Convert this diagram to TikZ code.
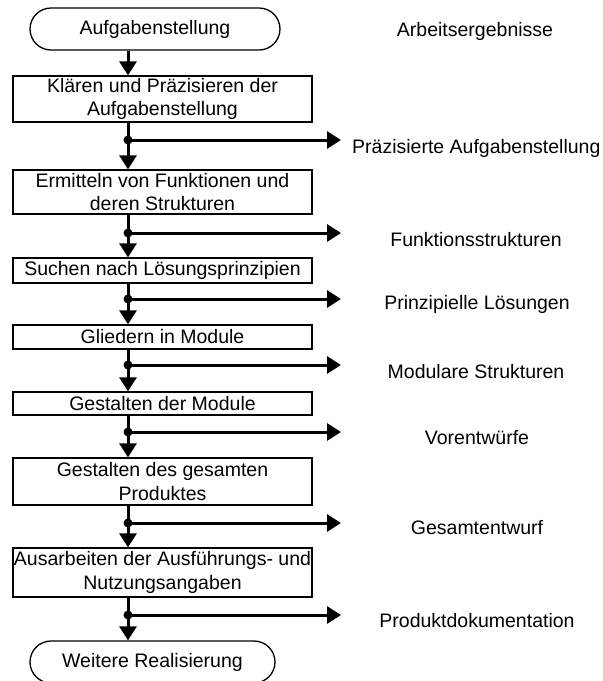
\documentclass[tikz,border=0pt]{standalone}
\usepackage{fontspec}
\setmainfont{Liberation Sans}
\usetikzlibrary{arrows.meta}
\begin{document}
\begin{tikzpicture}[x=1pt,y=-1pt,
  every node/.style={font=\fontsize{19.5}{23.5}\selectfont},
  stepbox/.style={draw, line width=1.3pt, minimum width=299pt, inner sep=0pt, align=center},
  terminal/.style={draw, line width=1.3pt, rounded corners=21pt, minimum height=42pt, inner sep=0pt},
  flow/.style={line width=3pt, -{Triangle[length=14pt,width=17pt]}},
  junction/.style={circle, fill, inner sep=0pt, minimum size=9pt},
  result/.style={inner sep=0pt}]
\clip (0,0) rectangle (603,681);
\fill[white] (0,0) rectangle (603,681);

% process steps
\node[terminal, minimum width=250pt] (start) at (155,29) {Aufgabenstellung};
\node[stepbox, minimum height=46pt] (s1) at (162.5,99) {Klären und Präzisieren der\\Aufgabenstellung};
\node[stepbox, minimum height=44pt] (s2) at (162.5,192) {Ermitteln von Funktionen und\\deren Strukturen};
\node[stepbox, minimum height=25pt] (s3) at (162.5,270.5) {Suchen nach Lösungsprinzipien};
\node[stepbox, minimum height=24pt] (s4) at (162.5,337) {Gliedern in Module};
\node[stepbox, minimum height=23pt] (s5) at (162.5,403.5) {Gestalten der Module};
\node[stepbox, minimum height=47pt] (s6) at (162.5,481.5) {Gestalten des gesamten\\Produktes};
\node[stepbox, minimum height=49pt] (s7) at (162.5,572.5) {Ausarbeiten der Ausführungs- und\\Nutzungsangaben};
\node[terminal, minimum width=245pt] (end) at (152.5,662) {Weitere Realisierung};

% branch points and arrow ends
\node[junction] (j1) at (128,140) {};
\node[junction] (j2) at (128,233) {};
\node[junction] (j3) at (128,299) {};
\node[junction] (j4) at (128,365) {};
\node[junction] (j5) at (128,432) {};
\node[junction] (j6) at (128,523) {};
\node[junction] (j7) at (128,615) {};
\foreach \i/\y in {1/140,2/233,3/299,4/365,5/432,6/523,7/615}
  \coordinate (e\i) at (341,\y);

% results
\node[result] (r0) at (475,31) {Arbeitsergebnisse};
\node[result, anchor=west] (r1) at (352,148) {Präzisierte Aufgabenstellung};
\node[result] (r2) at (476,240) {Funktionsstrukturen};
\node[result] (r3) at (477,304) {Prinzipielle Lösungen};
\node[result] (r4) at (476,372) {Modulare Strukturen};
\node[result] (r5) at (477,438) {Vorentwürfe};
\node[result] (r6) at (477,528) {Gesamtentwurf};
\node[result] (r7) at (477,621) {Produktdokumentation};

% main flow
\draw[flow] (start.south -| j1) -- (s1.north -| j1);
\draw[flow] (s1.south -| j1) -- (s2.north -| j1);
\draw[flow] (s2.south -| j1) -- (s3.north -| j1);
\draw[flow] (s3.south -| j1) -- (s4.north -| j1);
\draw[flow] (s4.south -| j1) -- (s5.north -| j1);
\draw[flow] (s5.south -| j1) -- (s6.north -| j1);
\draw[flow] (s6.south -| j1) -- (s7.north -| j1);
\draw[flow] (s7.south -| j1) -- (end.north -| j1);

% result branches
\foreach \i in {1,...,7}
  \draw[flow] (j\i.center) -- (e\i);
\end{tikzpicture}
\end{document}
